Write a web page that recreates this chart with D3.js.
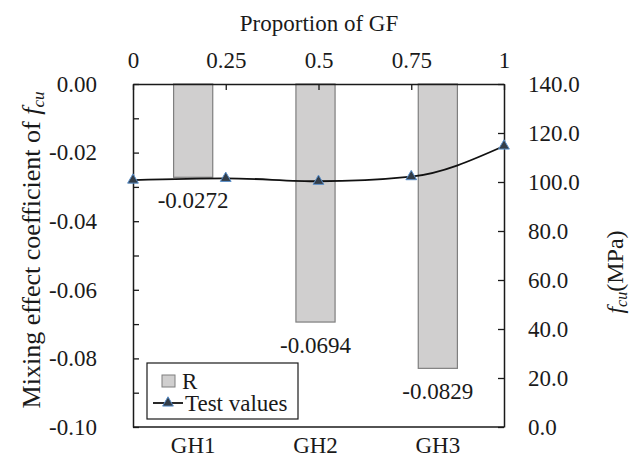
<!DOCTYPE html>
<html>
<head>
<meta charset="utf-8">
<script src="https://cdn.jsdelivr.net/npm/d3@7"></script>
<style>
  body { margin: 0; background: #fff; }
  svg text { font-family: 'Liberation Serif', Tinos, 'Times New Roman', Times, 'DejaVu Serif', serif; fill: #1a1a1a; }
</style>
</head>
<body>
<div id="chart"></div>
<script>
// data
const groups = ['GH1', 'GH2', 'GH3']
const mixingR = [-0.0272, -0.0694, -0.0829]
const proportions = [0, 0.25, 0.5, 0.75, 1]
const fcuValues = [100.8, 101.5, 100.3, 102.2, 114.7]
const leftTicks = d3.range(11).map(i => -i / 100)
const rightTicks = [0, 20, 40, 60, 80, 100, 120, 140]

const width = 629, height = 459
const plot = {left: 133, right: 504, top: 84, bottom: 427}
const fontSize = 23
const serif = "'Liberation Serif', Tinos, 'Times New Roman', Times, 'DejaVu Serif', serif"

const svg = d3.select('#chart').append('svg')
  .attr('width', width)
  .attr('height', height)

const yLeft = d3.scaleLinear().domain([-0.1, 0]).range([plot.bottom, plot.top])
const yRight = d3.scaleLinear().domain([0, 140]).range([plot.bottom, plot.top])
const xTop = d3.scaleLinear().domain([0, 1]).range([plot.left, plot.right])
const xBand = d3.scaleBand().domain(groups).range([132, 499]).paddingInner(0.68).paddingOuter(0.34)

// bars
const barG = svg.append('g')
barG.selectAll('rect').data(groups)
  .enter().append('rect')
  .attr('x', d => xBand(d))
  .attr('width', xBand.bandwidth())
  .attr('y', yLeft(0))
  .attr('height', (d, i) => yLeft(mixingR[i]) - yLeft(0))
  .attr('fill', '#d0cfcf')
  .attr('stroke', '#7f7f7f')
  .attr('stroke-width', 1.2)

barG.selectAll('.val').data(groups)
  .enter().append('text')
  .attr('x', d => xBand(d) + xBand.bandwidth() / 2)
  .attr('y', (d, i) => yLeft(mixingR[i]) + 31)
  .attr('text-anchor', 'middle')
  .style('font-size', fontSize + 'px')
  .text((d, i) => mixingR[i].toFixed(4))

// axes
const styleAxis = g => {
  g.attr('font-family', serif)
  g.selectAll('path').attr('stroke', '#1a1a1a').attr('stroke-width', 1.5)
  g.selectAll('line').attr('stroke', '#1a1a1a').attr('stroke-width', 1.3)
  g.selectAll('text').style('font-size', fontSize + 'px')
    .style('font-family', serif).attr('fill', '#1a1a1a')
}

svg.append('g')
  .attr('transform', `translate(${plot.left},0)`)
  .call(d3.axisLeft(yLeft).tickValues(leftTicks)
    .tickFormat((d, i) => i % 2 === 0 ? d.toFixed(2) : '')
    .tickSizeInner(-6).tickSizeOuter(0).tickPadding(36))
  .call(styleAxis)

svg.append('g')
  .attr('transform', `translate(${plot.right},0)`)
  .call(d3.axisRight(yRight).tickValues(rightTicks)
    .tickFormat(d => d.toFixed(1))
    .tickSizeInner(-6).tickSizeOuter(0).tickPadding(24))
  .call(styleAxis)

svg.append('g')
  .attr('transform', `translate(0,${plot.top})`)
  .call(d3.axisTop(xTop).tickValues(proportions)
    .tickFormat(d => String(d))
    .tickSizeInner(-6).tickSizeOuter(0).tickPadding(16))
  .call(styleAxis)

svg.append('g')
  .attr('transform', `translate(0,${plot.bottom})`)
  .call(d3.axisBottom(xBand).tickSize(0).tickPadding(10))
  .call(g => g.select('.domain').attr('d', `M${plot.left},0H${plot.right}`))
  .call(styleAxis)

// test value line
const line = d3.line()
  .x((d, i) => xTop(proportions[i]))
  .y(d => yRight(d))
  .curve(d3.curveMonotoneX)

svg.append('path')
  .datum(fcuValues)
  .attr('fill', 'none')
  .attr('stroke', '#111')
  .attr('stroke-width', 1.8)
  .attr('d', line)

const tri = d3.symbol().type(d3.symbolTriangle).size(50)
svg.append('g').selectAll('path').data(fcuValues)
  .enter().append('path')
  .attr('transform', (d, i) => `translate(${xTop(proportions[i])},${yRight(d)})`)
  .attr('d', tri)
  .attr('fill', '#333d48')
  .attr('stroke', '#5b8fc9')
  .attr('stroke-width', 1)

// titles
svg.append('text')
  .attr('x', 319).attr('y', 31)
  .attr('text-anchor', 'middle')
  .style('font-size', fontSize + 'px')
  .text('Proportion of GF')

const leftTitle = svg.append('text')
  .attr('transform', 'translate(40,250) rotate(-90)')
  .attr('text-anchor', 'middle')
  .style('font-size', '26px')
leftTitle.append('tspan').text('Mixing effect coefficient of ')
leftTitle.append('tspan').style('font-style', 'italic').text('f')
leftTitle.append('tspan').style('font-style', 'italic').style('font-size', '17px').attr('dy', 4).text('cu')

const rightTitle = svg.append('text')
  .attr('transform', 'translate(623,272) rotate(-90)')
  .attr('text-anchor', 'middle')
  .style('font-size', '24px')
rightTitle.append('tspan').style('font-style', 'italic').text('f')
rightTitle.append('tspan').style('font-style', 'italic').style('font-size', '16px').attr('dy', 4).text('cu')
rightTitle.append('tspan').attr('dy', -4).text('(MPa)')

// legend
const legend = svg.append('g').attr('transform', 'translate(147,363)')
legend.append('rect')
  .attr('width', 151).attr('height', 56)
  .attr('fill', '#fff').attr('stroke', '#1a1a1a').attr('stroke-width', 1.2)
legend.append('rect')
  .attr('x', 15).attr('y', 12).attr('width', 13).attr('height', 12)
  .attr('fill', '#d0cfcf').attr('stroke', '#7f7f7f')
legend.append('text')
  .attr('x', 35).attr('y', 26)
  .style('font-size', fontSize + 'px')
  .text('R')
legend.append('line')
  .attr('x1', 6).attr('x2', 36).attr('y1', 40).attr('y2', 40)
  .attr('stroke', '#111').attr('stroke-width', 1.8)
legend.append('path')
  .attr('transform', 'translate(21,40)')
  .attr('d', tri)
  .attr('fill', '#333d48').attr('stroke', '#5b8fc9')
legend.append('text')
  .attr('x', 38).attr('y', 48)
  .style('font-size', fontSize + 'px')
  .text('Test values')
</script>
</body>
</html>
